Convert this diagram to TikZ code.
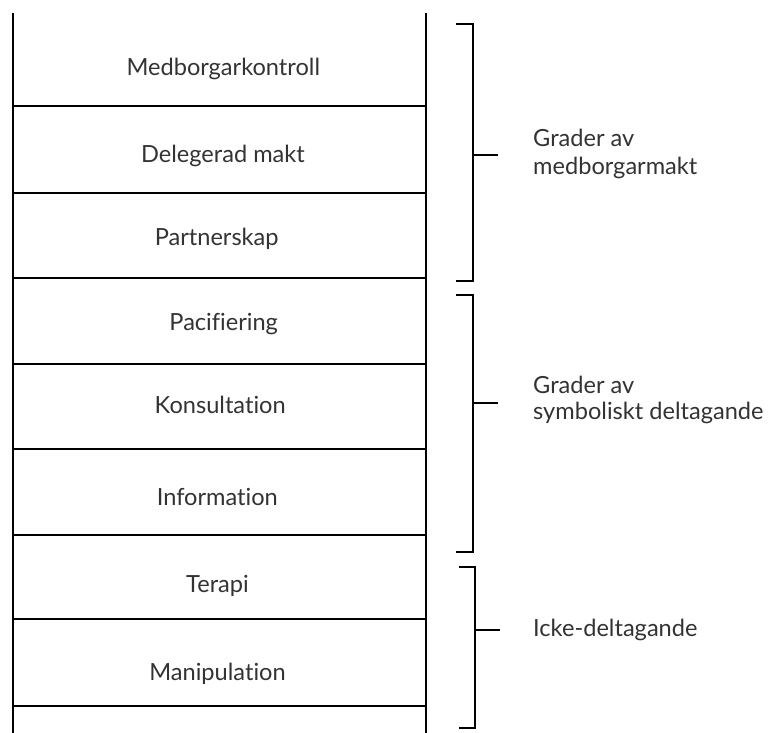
\documentclass[tikz,border=0pt]{standalone}
\usepackage{fontspec}
\setmainfont{Lato}[Ligatures={NoCommon}]
\definecolor{txt}{HTML}{333333}
\begin{document}
\begin{tikzpicture}[x=1pt,y=-1pt,
  rail/.style={line width=2pt,black},
  rung/.style={line width=2pt,black},
  brak/.style={line width=2pt,black},
  tick/.style={line width=1.6pt,black},
  lab/.style={inner sep=0pt,text=txt,font=\fontsize{23.6}{28}\selectfont},
  step label/.style={lab,anchor=base},
  side label/.style={lab,anchor=base west}]
\useasboundingbox (0,0) rectangle (768,733);
% rails
\coordinate (lt) at (12.7,13);
\coordinate (lb) at (12.7,734);
\coordinate (rt) at (426,13);
\coordinate (rb) at (426,734);
\draw[rail] (lt) -- (lb);
\draw[rail] (rt) -- (rb);
% rungs
\foreach \y in {106.5,192.7,277.7,363.8,448.6,535,619.3,706}
  \draw[rung] (12.7,\y) -- (426,\y);
% step labels
\node[step label] (s1) at (223.3,76) {Medborgarkontroll};
\node[step label] (s2) at (223,162.7) {Delegerad makt};
\node[step label] (s3) at (216.7,245.7) {Partnerskap};
\node[step label] (s4) at (223.7,330) {Pacifiering};
\node[step label] (s5) at (220.2,413.3) {Konsultation};
\node[step label] (s6) at (217.3,505.7) {Information};
\node[step label] (s7) at (217.5,592.7) {Terapi};
\node[step label] (s8) at (217.5,680) {Manipulation};
% brackets
\coordinate (b1t) at (456,24.5);
\coordinate (b1b) at (456,281);
\coordinate (b1m) at (472.7,155);
\coordinate (b1e) at (498,155);
\draw[brak] (b1t) -| (472.7,281) -- (b1b);
\draw[tick] (b1m) -- (b1e);
\coordinate (b2t) at (456,295);
\coordinate (b2b) at (456,552);
\coordinate (b2m) at (472.7,403);
\coordinate (b2e) at (498,403);
\draw[brak] (b2t) -| (472.7,552) -- (b2b);
\draw[tick] (b2m) -- (b2e);
\coordinate (b3t) at (459,566.7);
\coordinate (b3b) at (459,728.3);
\coordinate (b3m) at (475,630);
\coordinate (b3e) at (500,630);
\draw[brak] (b3t) -| (475,728.3) -- (b3b);
\draw[tick] (b3m) -- (b3e);
% side labels
\node[side label] (g1a) at (533,146.7) {Grader av};
\node[side label] (g1b) at (533,174) {medborgarmakt};
\node[side label] (g2a) at (533,393.5) {Grader av};
\node[side label] (g2b) at (533,419.5) {symboliskt deltagande};
\node[side label] (g3) at (533,636.7) {Icke-deltagande};
\end{tikzpicture}
\end{document}
